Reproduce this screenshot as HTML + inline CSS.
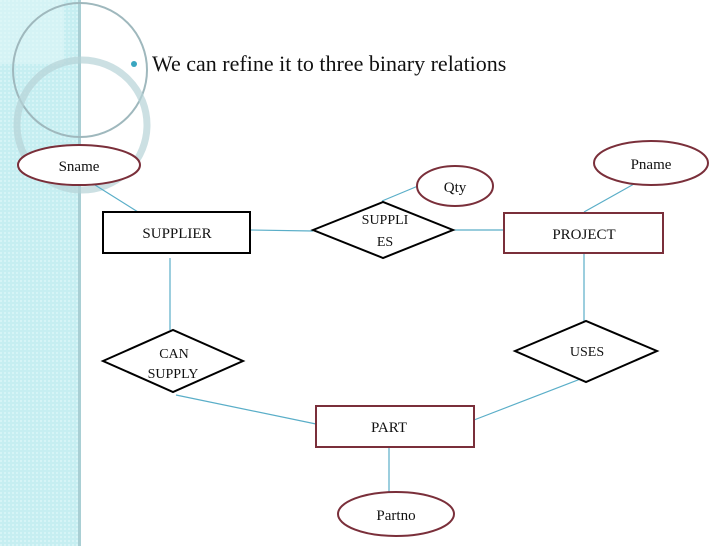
<!DOCTYPE html>
<html><head><style>
body{margin:0;width:728px;height:546px;overflow:hidden;background:#fff;}
</style></head><body>
<svg width="728" height="546" xmlns="http://www.w3.org/2000/svg" font-family="Liberation Serif, serif">
<defs>
<pattern id="p" width="4" height="4" patternUnits="userSpaceOnUse"><rect width="4" height="4" fill="#c6eef1"/><rect width="2" height="2" fill="#d6f4f6"/></pattern>
</defs>
<rect x="0" y="0" width="80" height="546" fill="url(#p)"/>
<rect x="78" y="0" width="3" height="546" fill="#a9cfd4"/>
<rect x="0" y="0" width="64" height="64" fill="#e0f7f9" opacity="0.6"/>
<circle cx="80" cy="70" r="67" fill="none" stroke="#9fb8bd" stroke-width="2"/>
<circle cx="82" cy="125" r="65" fill="none" stroke="#b6d3d7" stroke-width="7" opacity="0.7"/>
<circle cx="134" cy="64" r="3" fill="#3aa6c0"/>
<text x="152" y="71" font-size="22" fill="#111">We can refine it to three binary relations</text>
<g stroke="#5aaec8" stroke-width="1.2" fill="none">
<line x1="95" y1="185" x2="138" y2="212"/>
<line x1="250" y1="230" x2="313" y2="231"/>
<line x1="453" y1="230" x2="504" y2="230"/>
<line x1="382" y1="201" x2="418" y2="186"/>
<line x1="584" y1="212" x2="634" y2="184"/>
<line x1="170" y1="258" x2="170" y2="330"/>
<line x1="584" y1="253" x2="584" y2="321"/>
<line x1="176" y1="395" x2="316" y2="424"/>
<line x1="474" y1="420" x2="583" y2="378"/>
<line x1="389" y1="447" x2="389" y2="492"/>
</g>
<g fill="#fff" stroke="#7a2f3a" stroke-width="2">
<ellipse cx="79" cy="165" rx="61" ry="20"/>
<ellipse cx="455" cy="186" rx="38" ry="20"/>
<ellipse cx="651" cy="163" rx="57" ry="22"/>
<ellipse cx="396" cy="514" rx="58" ry="22"/>
<rect x="504" y="213" width="159" height="40"/>
<rect x="316" y="406" width="158" height="41"/>
</g>
<g fill="#fff" stroke="#000" stroke-width="2">
<rect x="103" y="212" width="147" height="41"/>
<polygon points="313,230 383,202 453,230 383,258"/>
<polygon points="103,361 173,330 243,361 173,392"/>
<polygon points="515,351 586,321 657,351 586,382"/>
</g>
<g font-size="15" fill="#111" text-anchor="middle">
<text x="79" y="171">Sname</text>
<text x="455" y="192">Qty</text>
<text x="651" y="169">Pname</text>
<text x="396" y="520">Partno</text>
<text x="177" y="238">SUPPLIER</text>
<text x="584" y="239">PROJECT</text>
<text x="389" y="432">PART</text>
<text x="385" y="224" font-size="14">SUPPLI</text>
<text x="385" y="246" font-size="14">ES</text>
<text x="174" y="358" font-size="14">CAN</text>
<text x="173" y="378" font-size="14">SUPPLY</text>
<text x="587" y="356" font-size="14">USES</text>
</g>
</svg>
</body></html>
